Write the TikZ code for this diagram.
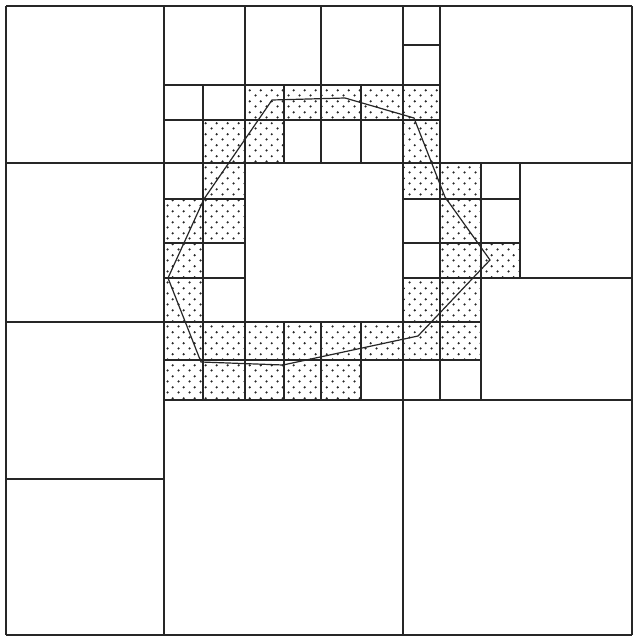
\documentclass[tikz,border=0pt]{standalone}
\usetikzlibrary{patterns.meta}
\tikzdeclarepattern{
  name=sdots,
  type=uncolored,
  bounding box={(0pt,0pt) and (11pt,11pt)},
  tile size={(11pt,11pt)},
  code={
    \fill (2.75pt,2.75pt) circle (1.3pt);
    \fill (8.25pt,8.25pt) circle (1.3pt);
  }
}
\tikzset{
  gridline/.style={draw=black!85, line width=1.1pt},
  dotcell/.style={pattern={sdots}, pattern color=black!85},
  outline/.style={draw=black!85, line width=1.2pt, line join=miter}
}
\begin{document}
\begin{tikzpicture}[x=1pt,y=-1pt]
\fill[white] (0,0) rectangle (634,637);
\useasboundingbox (0,0) rectangle (634,637);
% grid coordinates
\foreach \c/\xv in {0/6,4/164,5/203,6/245,7/284,8/321,9/361,10/403,11/440,12/481,13/520,16/632}{
  \foreach \r/\yv in {0/6,1/45,2/85,3/120,4/163,5/199,6/243,7/278,8/322,9/360,10/400,12/479,16/635}{
    \coordinate (p-\c-\r) at (\xv,\yv);
  }
}
% dotted cells
\foreach \c/\r/\cc/\rr in {
  6/2/7/3, 7/2/8/3, 8/2/9/3, 9/2/10/3, 10/2/11/3,
  5/3/6/4, 6/3/7/4, 10/3/11/4,
  5/4/6/5, 10/4/11/5, 11/4/12/5,
  4/5/5/6, 5/5/6/6, 11/5/12/6,
  4/6/5/7, 11/6/12/7, 12/6/13/7,
  4/7/5/8, 10/7/11/8, 11/7/12/8,
  4/8/5/9, 5/8/6/9, 6/8/7/9, 7/8/8/9, 8/8/9/9, 9/8/10/9, 10/8/11/9, 11/8/12/9,
  4/9/5/10, 5/9/6/10, 6/9/7/10, 7/9/8/10, 8/9/9/10}{
  \fill[dotcell] (p-\c-\r) rectangle (p-\cc-\rr);
}
% vertical lines
\foreach \c/\a/\b in {0/0/16, 4/0/16, 5/2/10, 6/0/10, 7/2/4, 7/8/10, 8/0/4, 8/8/10,
  9/2/4, 9/8/10, 10/0/16, 11/0/10, 12/4/10, 13/4/7, 16/0/16}{
  \draw[gridline] (p-\c-\a) -- (p-\c-\b);
}
% horizontal lines
\foreach \r/\a/\b in {0/0/16, 1/10/11, 2/4/11, 3/4/11, 4/0/16, 5/4/6, 5/10/13,
  6/4/6, 6/10/13, 7/4/6, 7/10/16, 8/0/12, 9/4/12, 10/4/16, 12/0/4, 16/0/16}{
  \draw[gridline] (p-\a-\r) -- (p-\b-\r);
}
% polygon
\coordinate (v1) at (168,278);
\coordinate (v2) at (204,199);
\coordinate (v3) at (272,100);
\coordinate (v4) at (345,98);
\coordinate (v5) at (414,118);
\coordinate (v6) at (445,197);
\coordinate (v7) at (490,260);
\coordinate (v8) at (418,336);
\coordinate (v9) at (283,365);
\coordinate (v10) at (201,362);
\draw[outline] (v1) -- (v2) -- (v3) -- (v4) -- (v5) -- (v6) -- (v7) -- (v8) -- (v9) -- (v10) -- cycle;
\end{tikzpicture}
\end{document}
